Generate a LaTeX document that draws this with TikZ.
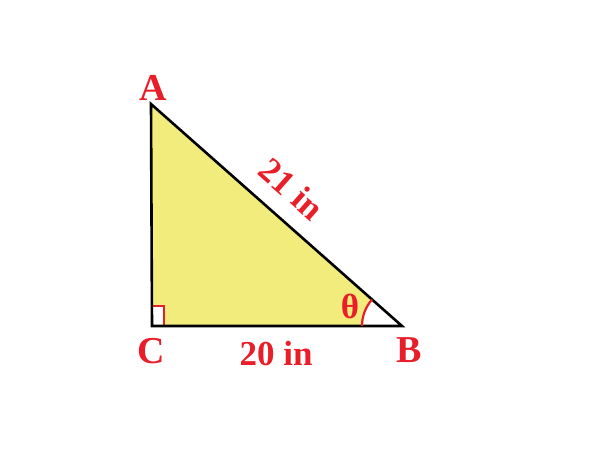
\documentclass[tikz,border=0pt]{standalone}
\usepackage{fontspec}
\setmainfont{Liberation Serif}
\definecolor{lblred}{RGB}{232,30,40}
\definecolor{triyellow}{RGB}{242,236,124}
\tikzset{
  lbl/.style={text=lblred,inner sep=0pt,font=\bfseries\fontsize{17.5}{18}\selectfont},
  vtx/.style={lbl,font=\bfseries\fontsize{19}{20}\selectfont},
}
\begin{document}
\begin{tikzpicture}[x=0.5pt,y=-0.5pt]
	\useasboundingbox (0,0) rectangle (600,450);
	\coordinate (A) at (151,104);
	\coordinate (B) at (402,326);
	\coordinate (C) at (152,326);
	\fill[triyellow] (A)--(B)--(C)--cycle;
	\fill[white] (B)--++(180:40) arc (180:221.5:40)--cycle;
	\draw[lblred,line width=1pt,fill=white] (C) rectangle ++(12,-20);
	\draw[line width=1.3pt] (A)--(B)--(C)--cycle;
	\draw[lblred,line width=1.1pt] (B)++(180:40) arc (180:221.5:40);
	\node[vtx] (lA) at (153,88) {A};
	\node[vtx] (lB) at (409,350) {B};
	\node[vtx] (lC) at (151,351) {C};
	\node[lbl] (lCB) at (276,354) {20 in};
	\node[lbl,rotate=-41.5] (lAB) at (292,189) {21 in};
	\node[lbl] (lth) at (350,306) {θ};
\end{tikzpicture}
\end{document}
